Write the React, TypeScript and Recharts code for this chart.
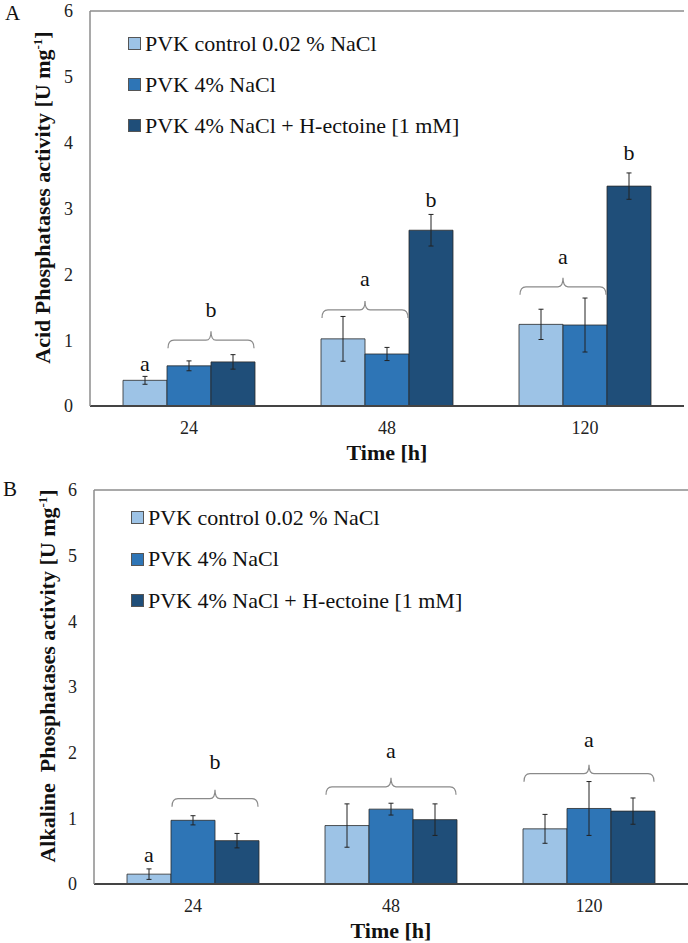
// Acid / alkaline phosphatase activity of PVK under salt stress, two
// stacked panels (A, B) with SD error bars and significance letters.

import React from "react";
import {
  Bar,
  BarChart,
  ErrorBar,
  Legend,
  ReferenceDot,
  ReferenceLine,
  XAxis,
  YAxis,
} from "recharts";

const times = ["24", "48", "120"];
const seriesNames = [
  "PVK control 0.02 % NaCl",
  "PVK 4% NaCl",
  "PVK 4% NaCl + H-ectoine [1 mM]",
];
const seriesKeys = ["control", "nacl", "ectoine"];
const seriesColors = ["#9DC3E6", "#2E75B6", "#1F4E79"];
const yTicks = [0, 1, 2, 3, 4, 5, 6];

// panel A — acid phosphatases
const acidControl = [0.39, 1.02, 1.24];
const acidControlErr = [0.06, 0.34, 0.23];
const acidNaCl = [0.61, 0.79, 1.23];
const acidNaClErr = [0.075, 0.1, 0.41];
const acidEctoine = [0.67, 2.67, 3.34];
const acidEctoineErr = [0.11, 0.24, 0.2];

// panel B — alkaline phosphatases
const alkControl = [0.15, 0.89, 0.84];
const alkControlErr = [0.08, 0.33, 0.22];
const alkNaCl = [0.97, 1.14, 1.15];
const alkNaClErr = [0.07, 0.09, 0.41];
const alkEctoine = [0.66, 0.98, 1.11];
const alkEctoineErr = [0.11, 0.24, 0.2];

// significance letters: bar span (0..2), letter height, optional brace height
type Mark = { time: string; from: number; to: number; letter: string; letterY: number; braceY?: number };

const acidMarks: Mark[] = [
  { time: "24", from: 0, to: 0, letter: "a", letterY: 0.64 },
  { time: "24", from: 1, to: 2, letter: "b", letterY: 1.46, braceY: 1.0 },
  { time: "48", from: 0, to: 1, letter: "a", letterY: 1.93, braceY: 1.46 },
  { time: "48", from: 2, to: 2, letter: "b", letterY: 3.13 },
  { time: "120", from: 0, to: 1, letter: "a", letterY: 2.27, braceY: 1.81 },
  { time: "120", from: 2, to: 2, letter: "b", letterY: 3.84 },
];

const alkMarks: Mark[] = [
  { time: "24", from: 0, to: 0, letter: "a", letterY: 0.44 },
  { time: "24", from: 1, to: 2, letter: "b", letterY: 1.86, braceY: 1.3 },
  { time: "48", from: 0, to: 2, letter: "a", letterY: 2.02, braceY: 1.48 },
  { time: "120", from: 0, to: 2, letter: "a", letterY: 2.19, braceY: 1.68 },
];

const BAR = 44;
const FONT = "Liberation Serif, Times New Roman, serif";
const FRAME = "#8c8c8c";

function buildRows(vals: number[][], errs: number[][]) {
  return times.map((t, i) => {
    const row: Record<string, string | number> = { time: t };
    seriesKeys.forEach((k, s) => {
      row[k] = vals[s][i];
      row[k + "Err"] = errs[s][i];
    });
    return row;
  });
}

const acidData = buildRows(
  [acidControl, acidNaCl, acidEctoine],
  [acidControlErr, acidNaClErr, acidEctoineErr],
);
const alkData = buildRows(
  [alkControl, alkNaCl, alkEctoine],
  [alkControlErr, alkNaClErr, alkEctoineErr],
);

function Brace({ cx, cy, from, to }: { cx: number; cy: number; from: number; to: number }) {
  const x1 = cx + (from - 1) * BAR - BAR / 2 + 1;
  const x2 = cx + (to - 1) * BAR + BAR / 2 - 1;
  const xm = (x1 + x2) / 2;
  const d = `M ${x1} ${cy + 8} Q ${x1} ${cy} ${x1 + 6} ${cy} L ${xm - 5} ${cy} Q ${xm} ${cy} ${xm} ${cy - 9} Q ${xm} ${cy} ${xm + 5} ${cy} L ${x2 - 6} ${cy} Q ${x2} ${cy} ${x2} ${cy + 8}`;
  return <path d={d} fill="none" stroke="#8a8a8a" strokeWidth={1.2} />;
}

function Letter({ cx, cy, from, to, letter }: { cx: number; cy: number; from: number; to: number; letter: string }) {
  const x = cx + ((from + to) / 2 - 1) * BAR;
  return (
    <text x={x} y={cy + 7} textAnchor="middle" fontSize={22} fontFamily={FONT} fill="#111">
      {letter}
    </text>
  );
}

// rotated title; baseX is the text baseline, shift nudges it along the axis
function YTitle({
  viewBox,
  text,
  baseX,
  shift,
}: {
  viewBox?: { y: number; height: number };
  text: string;
  baseX: number;
  shift: number;
}) {
  if (!viewBox) return null;
  const cy = viewBox.y + viewBox.height / 2 + shift;
  return (
    <text
      x={baseX}
      y={cy}
      transform={`rotate(-90 ${baseX} ${cy})`}
      textAnchor="middle"
      fontSize={22}
      fontWeight="bold"
      fontFamily={FONT}
      fill="#111"
      style={{ whiteSpace: "pre" }}
    >
      {text}
      <tspan dy={-8} fontSize={13}>-1</tspan>
      <tspan dy={8}>]</tspan>
    </text>
  );
}

function XTitle({ viewBox }: { viewBox?: { x: number; y: number; width: number } }) {
  if (!viewBox) return null;
  return (
    <text
      x={viewBox.x + viewBox.width / 2}
      y={viewBox.y + 54}
      textAnchor="middle"
      fontSize={22}
      fontWeight="bold"
      fontFamily={FONT}
      fill="#111"
    >
      Time [h]
    </text>
  );
}

function LegendBox({ left, top, rowGap }: { left: number; top: number; rowGap: number }) {
  return (
    <div style={{ position: "absolute", left, top, fontFamily: FONT, fontSize: 22, color: "#111" }}>
      {seriesNames.map((n, i) => (
        <div key={n} style={{ display: "flex", alignItems: "center", height: rowGap, whiteSpace: "nowrap" }}>
          <span
            style={{
              display: "inline-block",
              width: 11,
              height: 11,
              background: seriesColors[i],
              border: "1px solid #555",
              marginRight: 4,
            }}
          />
          {n}
        </div>
      ))}
    </div>
  );
}

function Panel({
  data,
  marks,
  yTitle,
  titleX,
  margin,
  height,
  legend,
}: {
  data: Record<string, string | number>[];
  marks: Mark[];
  yTitle: string;
  titleX: number;
  margin: { top: number; right: number; bottom: number; left: number };
  height: number;
  legend: { left: number; top: number; rowGap: number };
}) {
  return (
    <BarChart width={688} height={height} data={data} margin={margin} barGap={0} barSize={BAR}>
      <XAxis
        dataKey="time"
        tickLine={false}
        tickSize={6}
        tickMargin={9}
        axisLine={{ stroke: "#444", strokeWidth: 2 }}
        tick={{ fontSize: 18, fill: "#222", fontFamily: FONT }}
        height={50}
        label={<XTitle />}
      />
      <YAxis
        domain={[0, 6]}
        ticks={yTicks}
        interval={0}
        width={30}
        tickLine={false}
        tickSize={6}
        tickMargin={11}
        axisLine={{ stroke: FRAME, strokeWidth: 1.5 }}
        tick={{ fontSize: 18, fill: "#222", fontFamily: FONT }}
        label={<YTitle text={yTitle} baseX={titleX} shift={-11} />}
      />
      <YAxis
        yAxisId="frame"
        orientation="right"
        domain={[0, 6]}
        width={0}
        tick={false}
        tickLine={false}
        axisLine={{ stroke: FRAME, strokeWidth: 1.5 }}
      />
      <ReferenceLine y={6} stroke={FRAME} strokeWidth={1.5} />
      <Legend
        layout="vertical"
        align="center"
        verticalAlign="middle"
        wrapperStyle={{ left: 0, top: 0, width: 688, height: 0 }}
        content={() => <LegendBox {...legend} />}
      />
      {seriesKeys.map((k, i) => (
        <Bar
          key={k}
          dataKey={k}
          name={seriesNames[i]}
          fill={seriesColors[i]}
          stroke="#2a2a2a"
          strokeWidth={0.8}
          isAnimationActive={false}
        >
          <ErrorBar dataKey={k + "Err"} width={2.5} stroke="#222" strokeWidth={1} direction="y" isAnimationActive={false} />
        </Bar>
      ))}
      {marks
        .filter((m) => m.braceY != null)
        .map((m) => (
          <ReferenceDot
            key={`brace-${m.time}-${m.from}`}
            x={m.time}
            y={m.braceY}
            r={0}
            ifOverflow="visible"
            shape={(p: { cx: number; cy: number }) => <Brace cx={p.cx} cy={p.cy} from={m.from} to={m.to} />}
          />
        ))}
      {marks.map((m) => (
        <ReferenceDot
          key={`letter-${m.time}-${m.from}`}
          x={m.time}
          y={m.letterY}
          r={0}
          ifOverflow="visible"
          shape={(p: { cx: number; cy: number }) => (
            <Letter cx={p.cx} cy={p.cy} from={m.from} to={m.to} letter={m.letter} />
          )}
        />
      ))}
    </BarChart>
  );
}

export default function App() {
  return (
    <div style={{ position: "absolute", left: 0, top: 0, width: 688, height: 943, background: "#fff", fontFamily: FONT }}>
      <div style={{ position: "absolute", left: 0, top: 0 }}>
        <Panel
          data={acidData}
          marks={acidMarks}
          yTitle="Acid Phosphatases activity [U mg"
          titleX={50}
          margin={{ top: 11, right: 4, bottom: 14, left: 60 }}
          height={470}
          legend={{ left: 128, top: 23, rowGap: 41 }}
        />
      </div>
      <div style={{ position: "absolute", left: 0, top: 470 }}>
        <Panel
          data={alkData}
          marks={alkMarks}
          yTitle="Alkaline  Phosphatases activity [U mg"
          titleX={55}
          margin={{ top: 20, right: 0, bottom: 9, left: 64 }}
          height={473}
          legend={{ left: 131, top: 27, rowGap: 41.5 }}
        />
      </div>
      <div style={{ position: "absolute", left: 5, top: 3, fontSize: 21, lineHeight: 1, color: "#111" }}>A</div>
      <div style={{ position: "absolute", left: 3, top: 479, fontSize: 21, lineHeight: 1, color: "#111" }}>B</div>
    </div>
  );
}
